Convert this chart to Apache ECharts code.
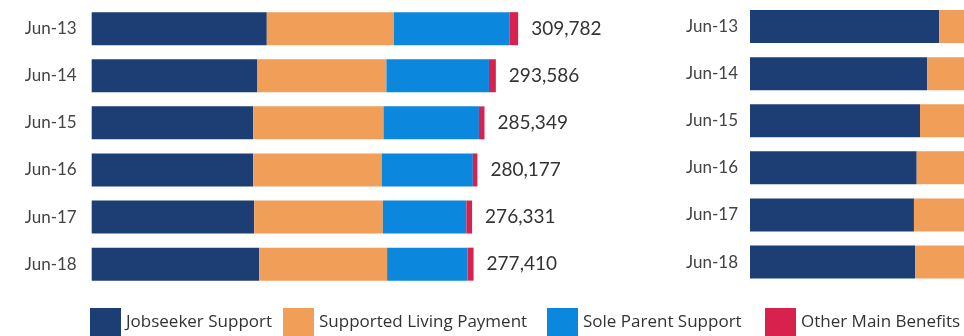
<!DOCTYPE html>
<html>
<head>
<meta charset="utf-8">
<script src="https://cdn.jsdelivr.net/npm/echarts@6/dist/echarts.min.js"></script>
<style>
  html, body { margin: 0; padding: 0; background: #ffffff; }
  #chart { width: 964px; height: 336px; }
</style>
</head>
<body>
<div id="chart"></div>
<script>
// Quarter-ending dates (June of each year)
const categories = ['Jun-13', 'Jun-14', 'Jun-15', 'Jun-16', 'Jun-17', 'Jun-18'];

// Working-age main benefit recipients by benefit type
const jobseeker   = [127200, 120400, 117300, 117300, 118100, 121700];
const slp         = [92400, 93700, 94700, 93400, 93400, 92900];
const soleParent  = [83800, 74500, 69300, 66200, 60700, 58400];
const otherMain   = [6382, 4986, 4049, 3277, 4131, 4410];

// Second panel (only the leading segments fall inside the frame)
const rightJobseeker = [137500, 128800, 123500, 121100, 119100, 119900];
const rightSlp       = [95000, 95000, 95000, 95000, 95000, 95000];

const seriesNames = ['Jobseeker Support', 'Supported Living Payment', 'Sole Parent Support', 'Other Main Benefits'];
const colors = ['#1c3e74', '#f09e58', '#0b88de', '#d9214e'];

function fmt(n) {
  return n.toString().replace(/\B(?=(\d{3})+(?!\d))/g, ',');
}

const chart = echarts.init(document.getElementById('chart'), null, { renderer: 'canvas' });

const axisLabelStyle = { fontFamily: 'Lato', fontSize: 17, color: '#444' };

const legendLefts = [90, 283, 547, 765];
const legends = seriesNames.map((name, i) => ({
  data: [name],
  left: legendLefts[i],
  top: 308,
  padding: 0,
  itemWidth: 31,
  itemHeight: 28,
  itemGap: 0,
  icon: 'rect',
  selectedMode: false,
  textStyle: { fontFamily: 'Open Sans', fontSize: 17, color: '#333' }
}));

const barCommon = { type: 'bar', barWidth: 33, emphasis: { disabled: true }, animation: false };

chart.setOption({
  backgroundColor: '#ffffff',
  color: colors,
  legend: legends,
  grid: [
    { left: 91.7, top: 5.1, width: 440.5, height: 282.6, outerBoundsMode: 'none' },
    { left: 750, top: 3, width: 440.5, height: 282.6, outerBoundsMode: 'none' }
  ],
  xAxis: [
    { gridIndex: 0, type: 'value', min: 0, max: 320000, show: false },
    { gridIndex: 1, type: 'value', min: 0, max: 320000, show: false }
  ],
  yAxis: [
    {
      gridIndex: 0, type: 'category', data: categories, inverse: true,
      axisLine: { show: false }, axisTick: { show: false }, splitLine: { show: false },
      axisLabel: Object.assign({ margin: 15 }, axisLabelStyle)
    },
    {
      gridIndex: 1, type: 'category', data: categories, inverse: true,
      axisLine: { show: false }, axisTick: { show: false }, splitLine: { show: false },
      axisLabel: Object.assign({ margin: 12 }, axisLabelStyle)
    }
  ],
  series: [
    Object.assign({}, barCommon, { name: seriesNames[0], stack: 'left', data: jobseeker, itemStyle: { color: colors[0] } }),
    Object.assign({}, barCommon, { name: seriesNames[1], stack: 'left', data: slp, itemStyle: { color: colors[1] } }),
    Object.assign({}, barCommon, { name: seriesNames[2], stack: 'left', data: soleParent, itemStyle: { color: colors[2] } }),
    Object.assign({}, barCommon, {
      name: seriesNames[3], stack: 'left', data: otherMain, itemStyle: { color: colors[3] },
      label: {
        show: true, position: 'right', distance: 13,
        fontFamily: 'Lato', fontSize: 19, color: '#333',
        formatter: p => fmt(jobseeker[p.dataIndex] + slp[p.dataIndex] + soleParent[p.dataIndex] + otherMain[p.dataIndex])
      }
    }),
    Object.assign({}, barCommon, { name: seriesNames[0], stack: 'right', xAxisIndex: 1, yAxisIndex: 1, data: rightJobseeker, itemStyle: { color: colors[0] } }),
    Object.assign({}, barCommon, { name: seriesNames[1], stack: 'right', xAxisIndex: 1, yAxisIndex: 1, data: rightSlp, itemStyle: { color: colors[1] } })
  ]
});
</script>
</body>
</html>
